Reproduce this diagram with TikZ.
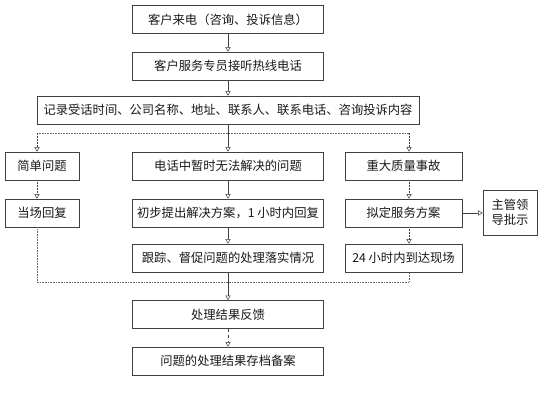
\documentclass[tikz,border=0pt]{standalone}
\usepackage{fontspec}
\setmainfont{Noto Sans CJK SC}
\usetikzlibrary{arrows.meta}
\begin{document}
\begin{tikzpicture}[x=1pt,y=-1pt,
  box/.style={draw=black!75, line width=0.6pt, minimum height=28pt, inner sep=1pt,
    font=\fontsize{12.3}{14.5}\selectfont, text=black!90},
  arr/.style={-{Triangle[open,width=5pt,length=4.5pt]}, line width=0.5pt, draw=black!75},
  dotline/.style={densely dotted, line width=0.6pt, draw=black!60}]
\useasboundingbox[fill=white] (0,0) rectangle (540,406);
% main column
\node[box, minimum width=191pt] (b1) at (228,19.5) {客户来电（咨询、投诉信息）};
\node[box, minimum width=191pt] (b2) at (228,66) {客户服务专员接听热线电话};
\node[box, minimum width=382pt] (b3) at (228,110) {记录受话时间、公司名称、地址、联系人、联系电话、咨询投诉内容};
% left column
\node[box, minimum width=74pt] (s1) at (42,166) {简单问题};
\node[box, minimum width=74pt] (s2) at (42,213) {当场回复};
% middle column
\node[box, minimum width=191pt] (m1) at (228,166) {电话中暂时无法解决的问题};
\node[box, minimum width=191pt] (m2) at (228,213) {初步提出解决方案，1 小时内回复};
\node[box, minimum width=191pt] (m3) at (228,258) {跟踪、督促问题的处理落实情况};
% right column
\node[box, minimum width=117pt] (r1) at (403.5,166) {重大质量事故};
\node[box, minimum width=117pt] (r2) at (403.5,213) {拟定服务方案};
\node[box, minimum width=117pt] (r3) at (403.5,258) {24 小时内到达现场};
\node[box, minimum width=54pt, minimum height=45pt, align=center] (zg) at (510,212.5) {主管领\\导批示};
% bottom
\node[box, minimum width=191pt] (f1) at (228,314.5) {处理结果反馈};
\node[box, minimum width=191pt] (f2) at (228,361) {问题的处理结果存档备案};
% bracket corners
\coordinate (tl) at (37,133);
\coordinate (tr) at (409,133);
\coordinate (bl) at (37,282);
\coordinate (br) at (409,282);
% connectors
\draw[arr] (b1.south) -- (b2.north);
\draw[arr] (b2.south) -- (b3.north);
\draw[arr] (b3.south) -- (m1.north);
\draw[dotline] (tl) -- (tr);
\draw[dotline, arr] (tl) -- (tl |- s1.north);
\draw[dotline, arr] (s1.south -| tl) -- (s2.north -| tl);
\draw[dotline] (s2.south -| tl) -- (bl) -- (br) -- (r3.south -| br);
\draw[arr] (m1.south) -- (m2.north);
\draw[arr] (m2.south) -- (m3.north);
\draw[arr] (m3.south) -- (f1.north);
\draw[dotline, arr] (tr) -- (tr |- r1.north);
\draw[dotline, arr] (r1.south -| tr) -- (r2.north -| tr);
\draw[dotline, arr] (r2.south -| tr) -- (r3.north -| tr);
\draw[arr] (r2.east) -- (r2.east -| zg.west);
\draw[arr, dashed] (f1.south) -- (f2.north);
\end{tikzpicture}
\end{document}
